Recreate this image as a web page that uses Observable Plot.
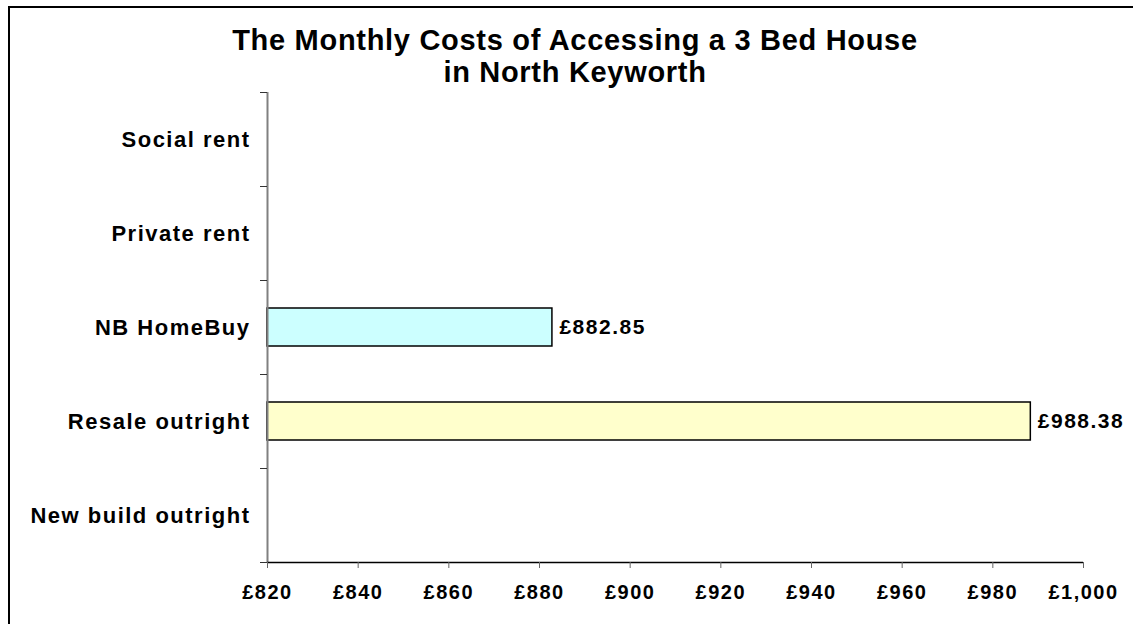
<!DOCTYPE html>
<html>
<head>
<meta charset="utf-8">
<script src="https://cdn.jsdelivr.net/npm/d3@7"></script>
<script src="https://cdn.jsdelivr.net/npm/@observablehq/plot@0.6"></script>
<style>
  html, body { margin: 0; padding: 0; background: #fff; overflow: hidden; }
  #wrap { position: relative; width: 1133px; height: 624px; overflow: hidden; background: #fff; }
  #frame { position: absolute; left: 8px; top: 6px; width: 1200px; height: 700px; border-left: 2px solid #000; border-top: 2px solid #000; box-sizing: border-box; }
  #title { position: absolute; left: 0; top: 24px; width: 1150px; text-align: center;
    font-family: "Liberation Sans", Arial, sans-serif; font-weight: bold; font-size: 29px; line-height: 32px; letter-spacing: 0.7px; color: #000; }
  #chart { position: absolute; left: 0; top: 86px; }
</style>
</head>
<body>
<div id="wrap">
  <div id="frame"></div>
  <div id="title">The Monthly Costs of Accessing a 3 Bed House<br>in North Keyworth</div>
  <div id="chart"></div>
</div>
<script>
// Data (top to bottom)
const categories = ["Social rent", "Private rent", "NB HomeBuy", "Resale outright", "New build outright"];
const values = [null, null, 882.85, 988.38, null];
const barColors = ["#CCFFFF", "#CCFFFF", "#CCFFFF", "#FFFFCC", "#CCFFFF"];
const xTicks = [820, 840, 860, 880, 900, 920, 940, 960, 980, 1000];
const xMin = 820, xMax = 1000;

const rows = categories.map((c, i) => ({cat: c, i, value: values[i], color: barColors[i]}));
const bars = rows.filter(d => d.value != null);
const fmtMoney = d3.format(",");
const fmtLabel = d3.format(",.2f");

const plot = Plot.plot({
  width: 1133,
  height: 538,
  marginLeft: 267,
  marginRight: 50,
  marginTop: 6,
  marginBottom: 62,
  style: {
    fontFamily: "'Liberation Sans', Arial, sans-serif",
    fontSize: "20px",
    fontWeight: "bold",
    letterSpacing: "1.5px",
    color: "#000",
    background: "transparent",
    overflow: "visible"
  },
  x: {domain: [xMin, xMax]},
  y: {domain: [0, categories.length], reverse: true},
  marks: [
    Plot.rectX(bars, {
      x1: () => xMin, x2: "value",
      y1: "i", y2: d => d.i + 1,
      insetTop: 28, insetBottom: 28,
      fill: "color", stroke: "#000", strokeWidth: 1.5
    }),
    Plot.text(bars, {
      x: "value", y: d => d.i + 0.5,
      text: d => "£" + fmtLabel(d.value),
      textAnchor: "start", dx: 7, fontSize: 21, fill: "#000"
    }),
    // y axis line
    Plot.ruleX([xMin], {stroke: "#808080", strokeWidth: 2}),
    // x axis line
    Plot.ruleY([categories.length], {stroke: "#000", strokeWidth: 1.5}),
    // y boundary ticks
    Plot.axisY({
      ticks: d3.range(categories.length + 1),
      tickSize: 7, tickFormat: () => "", stroke: "#333", label: null
    }),
    // y category labels
    Plot.axisY({
      ticks: categories.map((c, i) => i + 0.5),
      tickSize: 0, tickPadding: 17,
      tickFormat: v => categories[Math.floor(v)],
      fontSize: 22, label: null
    }),
    // x axis
    Plot.axisX({
      ticks: xTicks, tickSize: 6, tickPadding: 16,
      tickFormat: d => "£" + fmtMoney(d),
      stroke: "#666", fontSize: 20, label: null
    })
  ]
});
document.getElementById("chart").appendChild(plot);
</script>
</body>
</html>
